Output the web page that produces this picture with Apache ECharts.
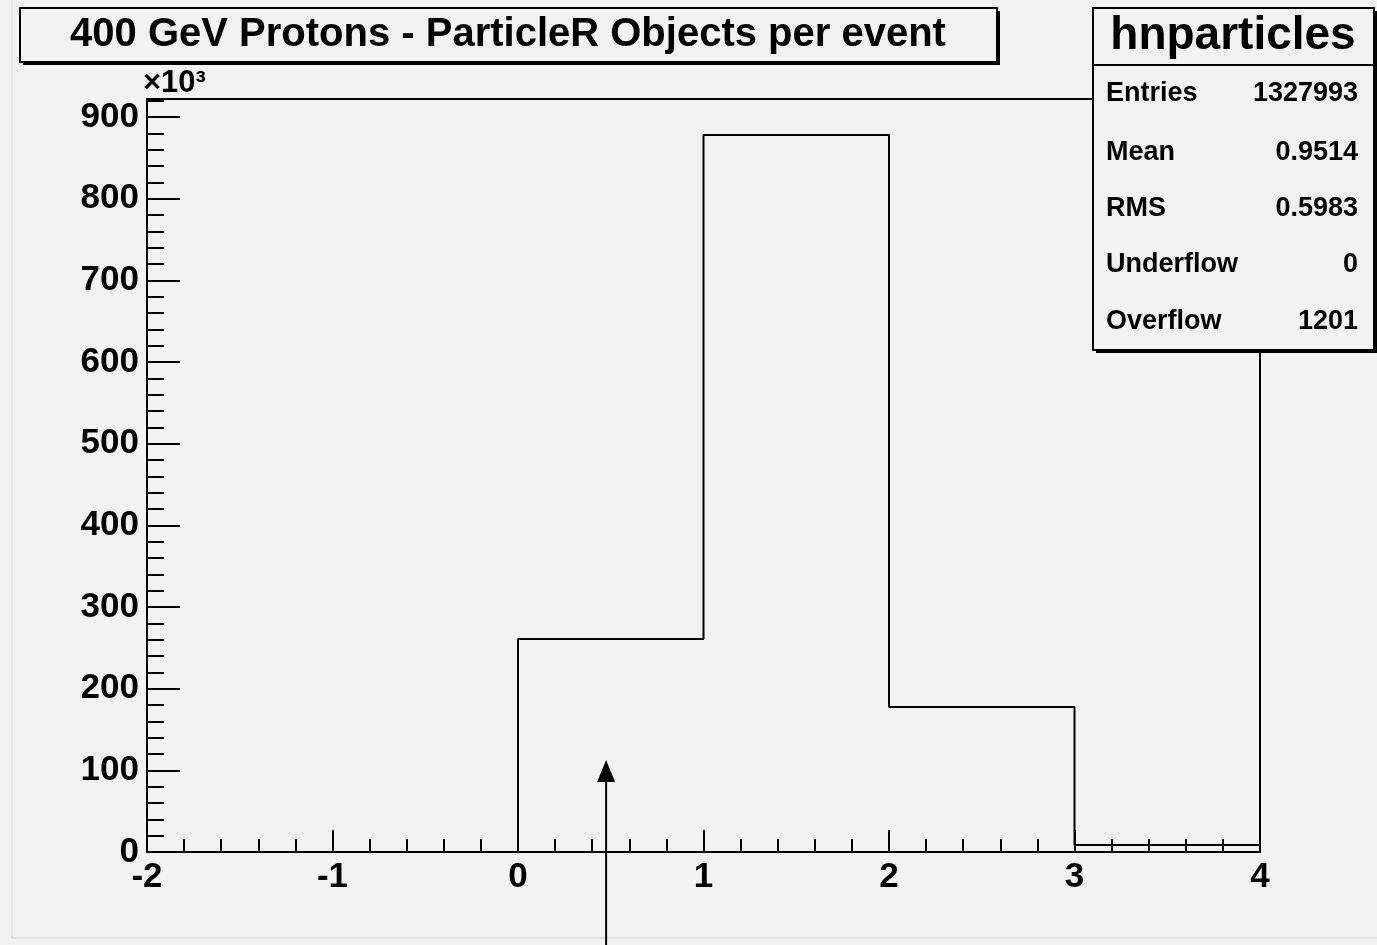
<!doctype html>
<html>
<head>
<meta charset="utf-8">
<title>hnparticles</title>
<script src="https://cdn.jsdelivr.net/npm/echarts@6/dist/echarts.min.js"></script>
<style>
  html, body { margin: 0; padding: 0; background: #f2f2f2; }
  #main { width: 1377px; height: 945px; }
</style>
</head>
<body>
<div id="main"></div>
<script>
// histogram bins (lower edges) and contents
var binEdges = [-2, -1, 0, 1, 2, 3, 4];
var binCounts = [0, 0, 260800, 878000, 177500, 8500];
var yTicks = [0, 100, 200, 300, 400, 500, 600, 700, 800, 900];
var yMax = 922000;

var titleText = '400 GeV Protons - ParticleR Objects per event';
var statsName = 'hnparticles';
var statsLabels = ['Entries', 'Mean', 'RMS', 'Underflow', 'Overflow'];
var statsValues = ['1327993', '0.9514', '0.5983', '0', '1201'];

// annotation arrow (data coords)
var arrowX = 0.475;
var arrowTipY = 112600;

var font = '"Liberation Sans", Arial, Helvetica, sans-serif';

// outline of the histogram as a step polyline
function outline() {
    var pts = [];
    for (var i = 0; i < binCounts.length; i++) {
        pts.push([binEdges[i], binCounts[i]]);
        pts.push([binEdges[i + 1], binCounts[i]]);
    }
    pts.push([binEdges[binEdges.length - 1], 0]);
    return pts;
}

var myChart = echarts.init(document.getElementById('main'));

var option = {
    backgroundColor: '#f2f2f2',
    animation: false,
    grid: {
        left: 147, right: 117, top: 99, bottom: 93,
        show: true, borderColor: '#000', borderWidth: 2,
        backgroundColor: 'transparent'
    },
    xAxis: {
        type: 'value', min: -2, max: 4, interval: 1,
        axisLine: { onZero: false, lineStyle: { color: '#000', width: 2 } },
        axisTick: { inside: true, length: 22, lineStyle: { color: '#000', width: 2 } },
        minorTick: { show: true, splitNumber: 5, length: 13, lineStyle: { color: '#000', width: 2 } },
        splitLine: { show: false },
        axisLabel: { color: '#000', fontFamily: font, fontWeight: 'bold', fontSize: 35, margin: 8 }
    },
    yAxis: {
        type: 'value', min: 0, max: yMax, interval: 100000,
        axisLine: { onZero: false, lineStyle: { color: '#000', width: 2 } },
        axisTick: { inside: true, length: 33, lineStyle: { color: '#000', width: 2 } },
        minorTick: { show: true, splitNumber: 5, length: 17, lineStyle: { color: '#000', width: 2 } },
        splitLine: { show: false },
        axisLabel: {
            color: '#000', fontFamily: font, fontWeight: 'bold', fontSize: 35, margin: 8,
            formatter: function (v) {
                var k = Math.round(v / 1000);
                return yTicks.indexOf(k) >= 0 && v % 100000 === 0 ? String(k) : '';
            }
        }
    },
    series: [{
        type: 'line',
        data: outline(),
        symbol: 'none',
        lineStyle: { color: '#000', width: 2 },
        clip: false,
        z: 3
    }]
};

myChart.setOption(option);

function px(p) { return myChart.convertToPixel({ gridIndex: 0 }, p); }

var tip = px([arrowX, arrowTipY]);
var g = [
    // faint canvas border
    { type: 'line', shape: { x1: 12, y1: 0, x2: 12, y2: 938 }, style: { stroke: '#e2e2e2', lineWidth: 2 }, silent: true },
    { type: 'line', shape: { x1: 12, y1: 938, x2: 1377, y2: 938 }, style: { stroke: '#e2e2e2', lineWidth: 2 }, silent: true },
    // title box
    { type: 'rect', shape: { x: 23, y: 11, width: 977, height: 54 }, style: { fill: '#000' }, z: 10 },
    { type: 'rect', shape: { x: 20, y: 8, width: 977, height: 54 }, style: { fill: '#f2f2f2', stroke: '#000', lineWidth: 2 }, z: 11 },
    { type: 'text', x: 508, y: 35, style: { text: titleText, font: 'bold 40px ' + font, fill: '#000', align: 'center', verticalAlign: 'middle' }, z: 12 },
    // x10^3
    { type: 'text', x: 143, y: 83, style: { text: '×10³', font: 'bold 31px ' + font, fill: '#000', align: 'left', verticalAlign: 'middle' }, z: 12 },
    // stats box
    { type: 'rect', shape: { x: 1096, y: 11, width: 281, height: 342 }, style: { fill: '#000' }, z: 10 },
    { type: 'rect', shape: { x: 1093, y: 8, width: 281, height: 342 }, style: { fill: '#f2f2f2', stroke: '#000', lineWidth: 2 }, z: 11 },
    { type: 'line', shape: { x1: 1093, y1: 65, x2: 1374, y2: 65 }, style: { stroke: '#000', lineWidth: 2 }, z: 12 },
    { type: 'text', x: 1233, y: 36, style: { text: statsName, font: 'bold 46px ' + font, fill: '#000', align: 'center', verticalAlign: 'middle' }, z: 12 },
    // arrow
    { type: 'line', shape: { x1: tip[0], y1: tip[1] + 10, x2: tip[0], y2: 945 }, style: { stroke: '#000', lineWidth: 2 }, z: 12 },
    { type: 'polygon', shape: { points: [[tip[0], tip[1]], [tip[0] - 9, tip[1] + 22], [tip[0] + 9, tip[1] + 22]] }, style: { fill: '#000' }, z: 12 }
];
var rowY = [94, 153, 209, 265, 322];
for (var i = 0; i < statsLabels.length; i++) {
    g.push({ type: 'text', x: 1106, y: rowY[i], style: { text: statsLabels[i], font: 'bold 27px ' + font, fill: '#000', align: 'left', verticalAlign: 'middle' }, z: 12 });
    g.push({ type: 'text', x: 1358, y: rowY[i], style: { text: statsValues[i], font: 'bold 27px ' + font, fill: '#000', align: 'right', verticalAlign: 'middle' }, z: 12 });
}
myChart.setOption({ graphic: g });
</script>
</body>
</html>
